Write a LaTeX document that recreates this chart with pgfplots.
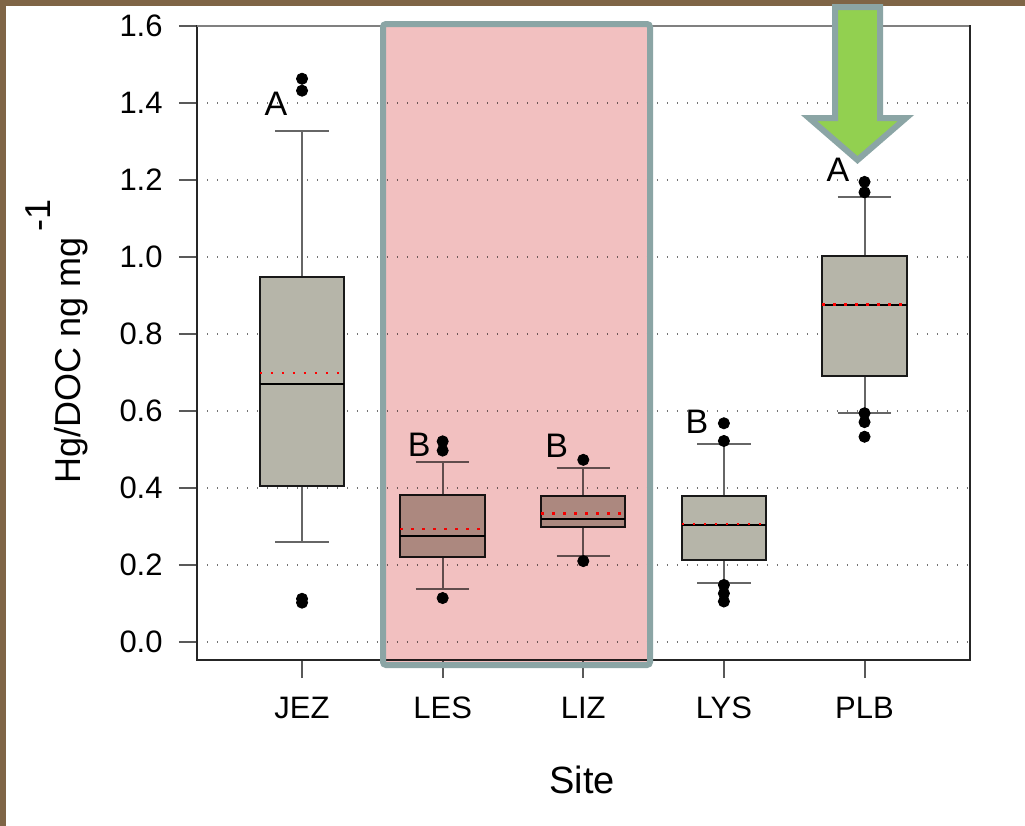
\documentclass[border=0pt]{standalone}
\usepackage{fontspec}
\setmainfont{Liberation Sans}
\usepackage{pgfplots}
\pgfplotsset{compat=1.18}
\usepgfplotslibrary{statistics}

\definecolor{frameBrown}{HTML}{7F6546}
\definecolor{boxGrey}{HTML}{B6B5A9}
\definecolor{hiEdge}{HTML}{8BA5A5}
\definecolor{hiFill}{HTML}{F2C0C0}
\definecolor{arrowGreen}{HTML}{92D050}

\newcommand{\sitebox}[7]{%
  % #1 position, #2 lower whisker, #3 lower quartile, #4 median,
  % #5 upper quartile, #6 upper whisker, #7 mean
  \addplot[boxplot prepared={draw position=#1, lower whisker=#2,
      lower quartile=#3, median=#4, upper quartile=#5, upper whisker=#6,
      box extend=0.6, whisker extend=0.38},
    fill=boxGrey, draw=black!90, line width=1pt] coordinates {};
  \addplot[red, line width=1.3pt, dash pattern=on 1.3pt off 4.2pt]
    coordinates {(#1-0.3,#7) (#1+0.3,#7)};
}

\begin{document}
\begin{tikzpicture}
  % page background with the brown edge on the left and top
  \fill[frameBrown] (0pt,0pt) rectangle (512.5pt,-413pt);
  \fill[white] (3pt,-3pt) rectangle (512.5pt,-413pt);

  \begin{axis}[
    at={(98.5pt,-330pt)}, anchor=south west,
    scale only axis, width=386.5pt, height=317pt,
    xmin=0.253, xmax=5.75, ymin=-0.047, ymax=1.6,
    xtick={1,2,3,4,5}, xticklabels={JEZ,LES,LIZ,LYS,PLB},
    ytick={0,0.2,0.4,0.6,0.8,1.0,1.2,1.4,1.6},
    /pgf/number format/assume math mode=true,
    tick label style={font=\fontsize{15.5}{18}\selectfont, black},
    yticklabel style={anchor=east, inner sep=0pt, xshift=-8pt,
      /pgf/number format/fixed, /pgf/number format/fixed zerofill,
      /pgf/number format/precision=1},
    xticklabel style={anchor=base, inner sep=0pt, yshift=-20pt},
    xtick pos=bottom, ytick pos=left, tick align=outside,
    major tick length=9pt,
    tick style={black!65, line width=1pt},
    axis line style={black!85, line width=1pt},
    ymajorgrids,
    grid style={black!55, line width=0.8pt, dash pattern=on 0.6pt off 4.4pt},
    boxplot/draw direction=y,
    boxplot/every whisker/.style={draw=black!60, line width=1pt},
    boxplot/every median/.style={draw=black, line width=0.9pt},
    clip=false,
  ]
    \sitebox{1}{0.260}{0.405}{0.670}{0.948}{1.327}{0.699}
    \sitebox{2}{0.138}{0.221}{0.275}{0.382}{0.468}{0.293}
    \sitebox{3}{0.223}{0.299}{0.319}{0.379}{0.452}{0.333}
    \sitebox{4}{0.153}{0.213}{0.304}{0.379}{0.514}{0.306}
    \sitebox{5}{0.595}{0.691}{0.875}{1.003}{1.156}{0.877}

    % values beyond the whiskers
    \addplot[only marks, mark=*, mark size=2.8pt, black] coordinates {
      (1,1.463) (1,1.432) (1,0.112) (1,0.102)
      (2,0.521) (2,0.497) (2,0.114)
      (3,0.473) (3,0.210)
      (4,0.568) (4,0.522) (4,0.148) (4,0.126) (4,0.105)
      (5,1.195) (5,1.168) (5,0.594) (5,0.571) (5,0.533)
    };

    % group letters
    \begin{scope}[every node/.style={font=\fontsize{17}{20}\selectfont, inner sep=0pt}]
      \node at (axis cs:0.815,1.399) {A};
      \node at (axis cs:1.833,0.513) {B};
      \node at (axis cs:2.811,0.510) {B};
      \node at (axis cs:3.808,0.571) {B};
      \node at (axis cs:4.811,1.227) {A};
    \end{scope}
  \end{axis}

  % lighter top edge of the frame
  \draw[black!50, line width=1.2pt] (98.5pt,-13pt) -- (484.5pt,-13pt);

  % highlighted pair of sites, tinting what lies beneath
  \fill[hiFill, blend mode=multiply, rounded corners=1.5pt]
    (191.5pt,-12pt) rectangle (325pt,-332.5pt);
  \draw[hiEdge, line width=3pt, rounded corners=1.5pt]
    (191.5pt,-12pt) rectangle (325pt,-332.5pt);

  % arrow pointing at PLB
  \draw[hiEdge, fill=arrowGreen, line width=3pt, line join=miter]
    (417.5pt,-3.5pt) -- (440pt,-3.5pt) -- (440pt,-59pt) -- (453pt,-59pt)
    -- (428.75pt,-80pt) -- (404.5pt,-59pt) -- (417.5pt,-59pt) -- cycle;

  % axis titles
  \node[font=\fontsize{19}{22}\selectfont, anchor=base] at (291pt,-396.5pt) {Site};
  \node[font=\fontsize{18}{22}\selectfont, rotate=90, anchor=base east, inner sep=0pt]
    at (40pt,-118.5pt) {Hg/DOC ng mg};
  \node[font=\fontsize{18}{22}\selectfont, rotate=90, anchor=base west, inner sep=0pt]
    at (25pt,-116pt) {-1};
\end{tikzpicture}
\end{document}
